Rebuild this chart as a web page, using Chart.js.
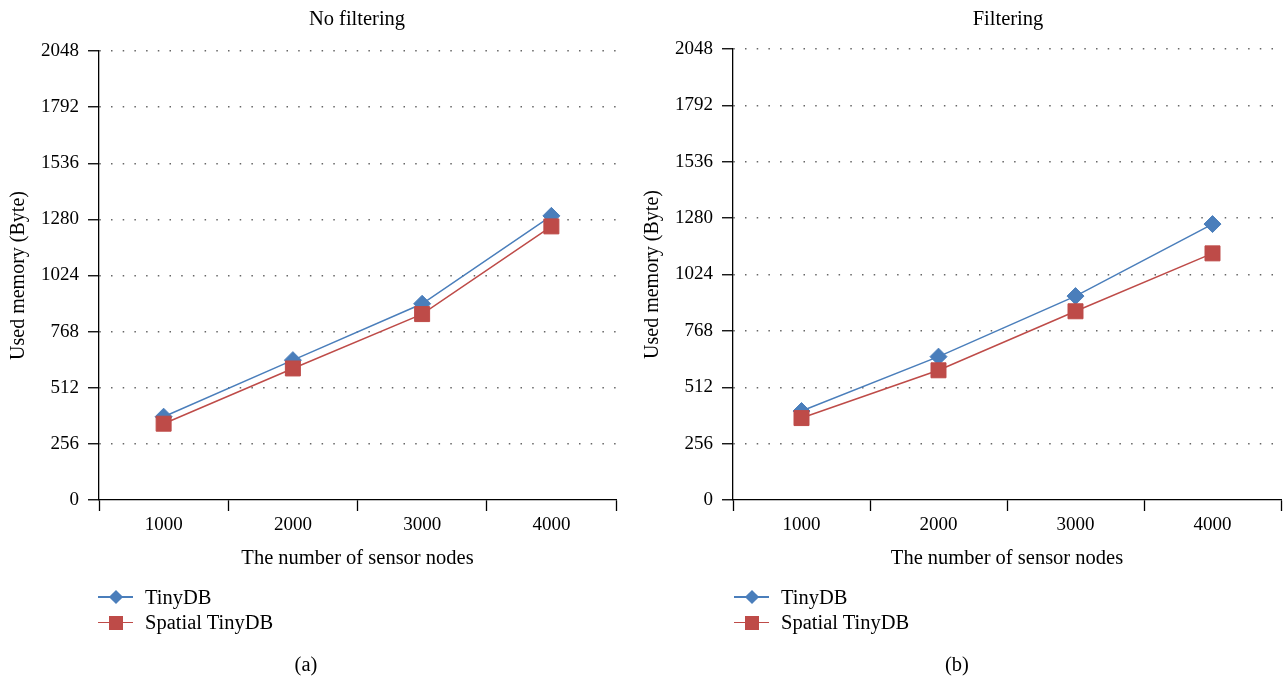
<!DOCTYPE html>
<html><head><meta charset="utf-8">
<script src="https://cdn.jsdelivr.net/npm/chart.js@4.4.0/dist/chart.umd.min.js"></script>
<style>
html,body{margin:0;padding:0;background:#fff;}
body{width:1286px;height:680px;overflow:hidden;position:relative;font-family:"Liberation Serif","DejaVu Serif",serif;color:#000;}
canvas{position:absolute;top:0;}
.t{position:absolute;font-size:20.5px;line-height:1;white-space:nowrap;transform:translate(-50%,-50%);}
.lt{position:absolute;font-size:20.5px;line-height:1;white-space:nowrap;transform:translateY(-50%);}
.ln{position:absolute;height:1.5px;width:35px;}
.mk{position:absolute;}
</style>
</head><body>
<canvas id="c1" width="643" height="680" style="left:0px"></canvas>
<canvas id="c2" width="652" height="680" style="left:634px"></canvas>
<div id="overlay"></div>
<script>
const categories = ['1000', '2000', '3000', '4000'];
const yTickValues = [0, 256, 512, 768, 1024, 1280, 1536, 1792, 2048];
const tinyNoFilter = [380, 638, 895, 1296];
const spatialNoFilter = [348, 600, 848, 1248];
const tinyFilter = [404, 651, 926, 1253];
const spatialFilter = [372, 589, 857, 1120];
const seriesNames = ['TinyDB', 'Spatial TinyDB'];
const panelTitles = ['No filtering', 'Filtering'];
const captions = ['(a)', '(b)'];
const xTitle = 'The number of sensor nodes';
const yTitle = 'Used memory (Byte)';

const BLUE = '#4A7EBB';
const RED = '#BE4B48';
const FAMILY = '"Liberation Serif", "DejaVu Serif", serif';
const tickFont = {family: FAMILY, size: 19};
const titleFont = {family: FAMILY, size: 20.5};

function makeChart(id, tiny, spatial, padTop, padRight) {
  return new Chart(document.getElementById(id), {
    type: 'line',
    data: {
      labels: categories,
      datasets: [
        {label: seriesNames[1], data: spatial, borderColor: RED, backgroundColor: RED,
         pointStyle: 'rect', pointRadius: 10.6, pointBorderWidth: 1, pointBackgroundColor: RED,
         pointBorderColor: RED, borderWidth: 1.5, tension: 0, order: 0, clip: false},
        {label: seriesNames[0], data: tiny, borderColor: BLUE, backgroundColor: BLUE,
         pointStyle: 'rectRot', pointRadius: 8.5, pointBorderWidth: 1, pointBackgroundColor: BLUE,
         pointBorderColor: BLUE, borderWidth: 1.5, tension: 0, order: 1, clip: false}
      ]
    },
    options: {
      responsive: false, animation: false, devicePixelRatio: 1,
      layout: {autoPadding: false, padding: {left: 0, top: padTop, right: padRight, bottom: 106}},
      plugins: {legend: {display: false}, tooltip: {enabled: false}, title: {display: false}},
      scales: {
        x: {
          type: 'category', offset: true,
          grid: {display: true, drawOnChartArea: false, drawTicks: true, tickLength: 11,
                 tickColor: '#000', tickWidth: 1.3, offset: true},
          border: {display: true, color: '#000', width: 1.3},
          ticks: {color: '#000', font: tickFont, padding: 3, maxRotation: 0, autoSkip: false},
          title: {display: true, text: xTitle, color: '#000', font: titleFont, padding: {top: 0, bottom: 3}},
          afterFit: s => { s.height = 74; }
        },
        y: {
          min: 0, max: 2048,
          afterBuildTicks: s => { s.ticks = yTickValues.map(v => ({value: v})); },
          grid: {color: c => (c.tick && c.tick.value === 0) ? 'rgba(0,0,0,0)' : '#666',
                 lineWidth: 1.5, drawTicks: true, tickLength: 11, tickColor: '#000', tickWidth: 1.3},
          border: {display: true, color: '#000', width: 1.3, dash: [1.5, 10.2]},
          ticks: {color: '#000', font: tickFont, padding: 9, callback: v => String(v)},
          title: {display: true, text: yTitle, color: '#000', font: {family: FAMILY, size: 20}, padding: {top: 7, bottom: 0}},
          afterFit: s => { s.width = 99; }
        }
      }
    }
  });
}

makeChart('c1', tinyNoFilter, spatialNoFilter, 51, 27);
makeChart('c2', tinyFilter, spatialFilter, 49, 5);

const ov = document.getElementById('overlay');
function add(html) { ov.insertAdjacentHTML('beforeend', html); }
const titleX = [357, 1008];
const capX = [306, 957];
const legX = [98, 734];
for (let i = 0; i < 2; i++) {
  add(`<div class="t" style="left:${titleX[i]}px;top:18px">${panelTitles[i]}</div>`);
  add(`<div class="t" style="left:${capX[i]}px;top:664px">${captions[i]}</div>`);
  const lx = legX[i];
  add(`<div class="ln" style="left:${lx}px;top:596px;background:${BLUE}"></div>`);
  add(`<div class="mk" style="left:${lx + 17.5 - 5}px;top:${597 - 5}px;width:10px;height:10px;background:${BLUE};transform:rotate(45deg)"></div>`);
  add(`<div class="lt" style="left:${lx + 47}px;top:597px">${seriesNames[0]}</div>`);
  add(`<div class="ln" style="left:${lx}px;top:621.5px;background:${RED}"></div>`);
  add(`<div class="mk" style="left:${lx + 17.5 - 7}px;top:${622.5 - 7}px;width:14px;height:14px;background:${RED}"></div>`);
  add(`<div class="lt" style="left:${lx + 47}px;top:622px">${seriesNames[1]}</div>`);
}
</script>
</body></html>
